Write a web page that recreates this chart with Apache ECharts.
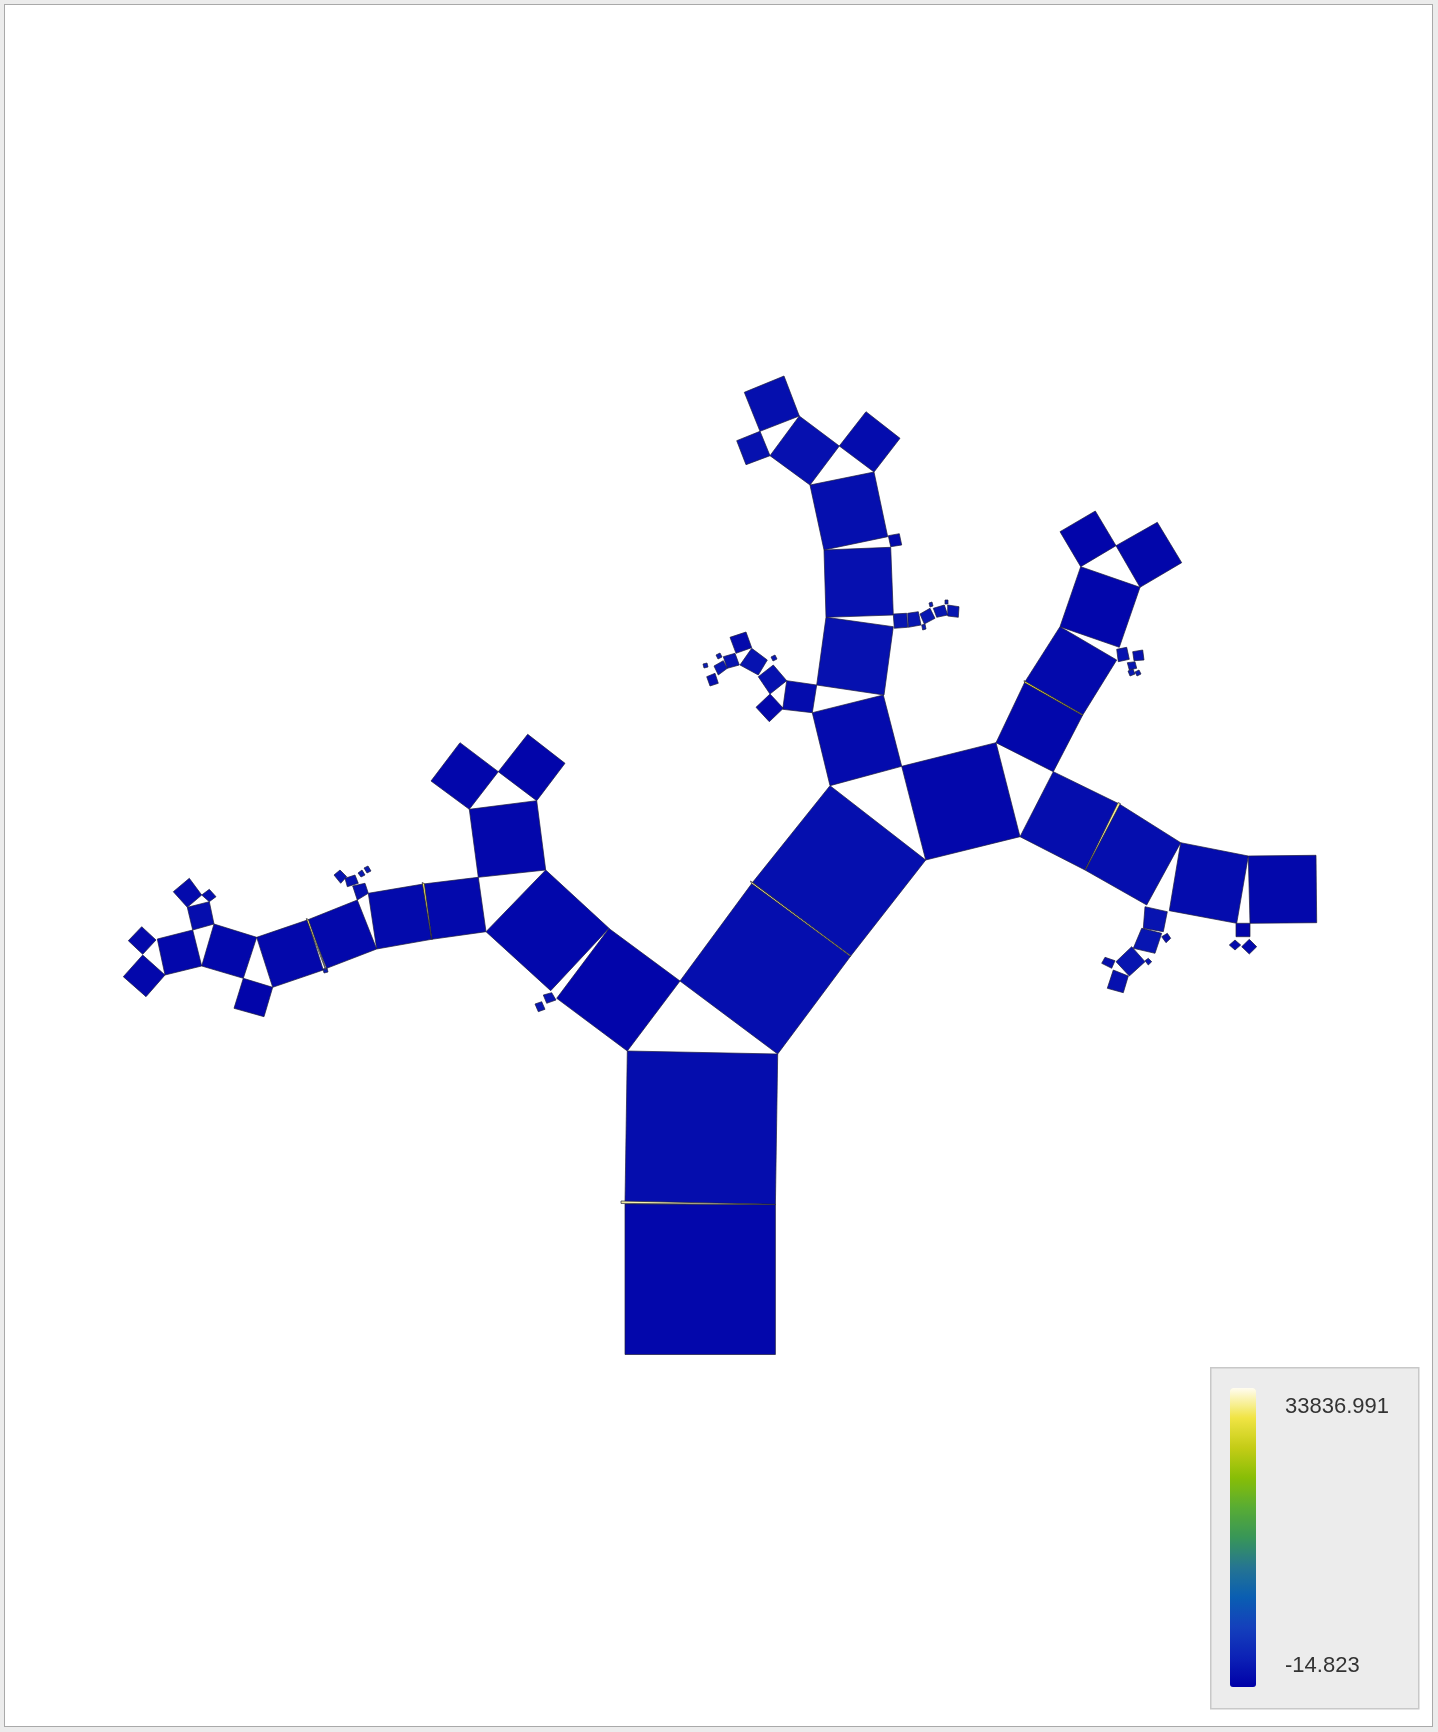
<!DOCTYPE html>
<html>
<head>
<meta charset="utf-8">
<script src="https://cdn.jsdelivr.net/npm/echarts@6/dist/echarts.min.js"></script>
<style>
  html, body { margin: 0; padding: 0; background: #ececec; }
  #main {
    position: absolute; left: 4px; top: 4px;
    width: 1427px; height: 1721px;
    border: 1px solid #a9a9a9; background: #fff;
  }
</style>
</head>
<body>
<div id="main"></div>
<script>
// colour bar range
var valueRange = [-14.823, 33836.991];

// every quad: x1,y1, x2,y2, x3,y3, x4,y4 (plane units)
var trunkQuads = [
  [625, 1204, 775.4, 1204.5, 775.4, 1354.5, 625, 1354.5],
  [627.3, 1051, 777.7, 1054, 775.4, 1204.5, 625, 1202]
];
var trunkValues = [700, 1300];

var leftQuads = [
  [627.3, 1051, 680, 981, 609, 928.5, 556.7, 998.3],
  [486, 931.7, 545.7, 870, 609, 928.3, 550.7, 990.7],
  [543.3, 995, 551.7, 992.7, 556, 1000, 546.7, 1003.3],
  [535, 1004, 541.7, 1001.7, 545, 1009.3, 538.3, 1011.7],
  [478.3, 877.3, 545.7, 870, 536.7, 800.7, 469.3, 809.3],
  [469.3, 809.3, 498.3, 771.7, 460, 742.7, 431, 781],
  [498.3, 771.7, 536.7, 800.7, 565, 763.3, 527.7, 734.3],
  [423.3, 884, 478.3, 877.3, 486, 931.7, 431.7, 939.3],
  [368.3, 893.3, 423.3, 884, 431.7, 939.3, 376.7, 949],
  [352.7, 886, 365, 883.3, 368.3, 893.3, 357.3, 900],
  [345, 878.3, 355, 875, 358.3, 883.3, 347.3, 886.7],
  [334, 875, 340, 870, 346.7, 876.7, 340.7, 883.3],
  [358, 873, 362, 870, 365, 875, 361, 877],
  [364, 868, 368, 866, 371, 871, 367, 873],
  [307.3, 920, 357.3, 900, 376.7, 949, 326.7, 968.3],
  [256.7, 937.3, 307.3, 920, 323.3, 970, 272.7, 987.3],
  [323, 969, 327, 968, 328, 972, 324, 973],
  [243.3, 978.3, 272.7, 987.3, 264, 1016.7, 234, 1008.3],
  [214, 924, 256.7, 937.3, 243.3, 978.3, 201.7, 966],
  [157.3, 939, 192.7, 930, 201.7, 966, 165, 975],
  [187.3, 907.3, 209.3, 901.7, 214, 924, 192.7, 930],
  [173.3, 891.7, 189.3, 878.3, 201.7, 895, 187.3, 907.3],
  [201.7, 895, 209.3, 889.3, 216, 896.7, 209.3, 901.7],
  [128.3, 940.7, 141.7, 926.7, 156, 940, 142.7, 954.3],
  [123.3, 976.7, 142.7, 955, 165, 975, 146, 996.7]
];
var leftValues = [500, 650, 1900, 2200, 700, 600, 500, 900, 950, 1500, 1800, 2000,
  2500, 2600, 750, 800, 2800, 500, 650, 700, 1300, 1000, 1400, 800, 700];

var topQuads = [
  [680, 981, 777.7, 1054, 850.7, 956, 752.7, 882.3],
  [752.7, 882.3, 850.7, 956, 925.7, 860, 830, 785.7],
  [830, 785.7, 901.7, 766.3, 883.3, 695, 812.3, 712.7],
  [786.7, 680.7, 816.7, 685, 812.3, 712.7, 782.7, 709.3],
  [826, 617.3, 893.3, 626.7, 884, 695, 816.7, 685],
  [824, 550, 890.7, 547.3, 893.3, 615, 826, 617.3],
  [810, 485, 874, 472, 887.7, 536.7, 824, 550],
  [770, 455.7, 799.3, 416, 839.3, 446, 810, 485],
  [839.3, 446, 866, 411.7, 900, 438.3, 874, 472],
  [744.3, 392.3, 784, 376, 799.3, 416, 760, 431.3],
  [736.7, 440.7, 760, 431.3, 770, 455.7, 746, 464.7],
  [888.3, 535.7, 899.3, 533.7, 901.7, 545, 890.7, 546.7],
  [893.3, 614, 906.7, 613.3, 907.7, 627.3, 894.3, 628.3],
  [907.7, 613.3, 918.3, 611.7, 921, 625, 908.3, 627.3],
  [920, 614, 930, 608.3, 935, 618.3, 924.3, 624],
  [933.3, 608.3, 944.3, 605, 947.7, 615, 936.7, 617.3],
  [947.7, 605, 959, 606.7, 958.3, 617.3, 947.7, 616],
  [921.7, 625, 925, 624, 926, 629, 922.7, 630],
  [929, 603, 932, 602, 933, 606, 930, 607],
  [945, 600, 948, 600, 948, 604, 945, 604],
  [756, 707.3, 770, 694, 783.3, 708.3, 769.3, 721.7],
  [758.3, 676.7, 773.3, 665, 786.7, 680.7, 770, 694],
  [740, 665, 751.7, 648.3, 767.3, 660, 758.3, 675],
  [730, 637.3, 746, 632, 751.7, 647.7, 736, 653.3],
  [723.3, 656.7, 735, 653.3, 739.3, 665, 727.3, 668.3],
  [714, 666, 723.3, 660.7, 727.3, 668.3, 718.3, 675],
  [706.7, 676.7, 715, 673.3, 718.3, 683.3, 710, 686],
  [771, 657, 775, 655, 777, 659, 773, 661],
  [716, 655, 720, 653, 722, 657, 718, 659],
  [703, 664, 707, 663, 708, 667, 704, 668]
];
var topValues = [1400, 1500, 1100, 1200, 1700, 1600, 1500, 1600, 1200, 1500, 1700, 900,
  2100, 2200, 2400, 2300, 2100, 2900, 2700, 2800, 700, 1700, 1800, 1000, 2000,
  2200, 1400, 2300, 2600, 2800];

var rightQuads = [
  [901.7, 766.3, 925.7, 860, 1020, 836.7, 996, 742.7],
  [996, 742.7, 1053.3, 771.7, 1082.7, 715, 1025, 681.7],
  [1025, 681.7, 1082.7, 715, 1116.7, 660, 1060, 626.7],
  [1060, 626.7, 1119.3, 647.3, 1140, 587.3, 1080.7, 566.7],
  [1060, 531.7, 1095.3, 511, 1116, 545.7, 1080.7, 566.7],
  [1116, 545.7, 1157.3, 522.3, 1181.7, 562.7, 1140, 587.3],
  [1116.7, 649.3, 1126.7, 647.3, 1129.3, 659.3, 1118.3, 661.7],
  [1132.7, 651.7, 1142.7, 650, 1144, 660, 1134, 660.7],
  [1127.3, 662.7, 1135, 661.7, 1136.7, 668.3, 1129.3, 670],
  [1128, 671, 1133, 669, 1135, 674, 1130, 676],
  [1135, 672, 1139, 670, 1141, 674, 1137, 676],
  [1053.3, 771.7, 1119.3, 804, 1085, 870, 1020, 836.7],
  [1119.3, 804, 1180.7, 842.7, 1146.7, 905, 1085, 870],
  [1180.7, 842.7, 1248.3, 856, 1236.7, 923.3, 1169.3, 910.7],
  [1248.3, 856, 1316, 855.3, 1316.7, 922.7, 1250, 923.3],
  [1236, 923.3, 1250, 923.3, 1250, 936.7, 1236, 936.7],
  [1229.3, 945, 1235, 940, 1240.7, 945, 1235, 950],
  [1241.7, 946.7, 1249.3, 939.3, 1256.7, 946.7, 1249.3, 954],
  [1145, 906.7, 1167.3, 911.7, 1163.3, 931.7, 1143.3, 928.3],
  [1141.7, 928.3, 1161.7, 933.3, 1155, 953.3, 1133.3, 948.3],
  [1161.7, 936.7, 1167.3, 933.3, 1170.7, 938.3, 1166, 942.7],
  [1116, 961.7, 1131.7, 946.7, 1145, 961.7, 1129.3, 976],
  [1145, 960.7, 1148.3, 958.3, 1151.7, 961.7, 1148.3, 965],
  [1101.7, 963.3, 1105, 957.3, 1115, 960.7, 1111.7, 968.3],
  [1107.3, 988.3, 1113.3, 970, 1128.3, 976, 1123.3, 992.7]
];
var rightValues = [700, 650, 900, 600, 500, 550, 1900, 1600, 2100, 2600, 2700,
  1300, 1400, 1200, 750, 500, 1000, 900, 1900, 2100, 1300, 2000, 2500, 1400, 1600];

// thin hot slivers between neighbouring squares
var sliverQuads = [
  [621, 1201, 775.4, 1204.3, 775.4, 1204.7, 621, 1203.4],
  [750.5, 881, 850.7, 955.6, 850.5, 956.4, 751.5, 883.6],
  [422.2, 882.5, 431.5, 939, 431.9, 939.5, 424.4, 883.6],
  [306.3, 918.6, 325.6, 969.8, 326.1, 969.6, 308.4, 919.4],
  [1118, 802.6, 1085.3, 869.5, 1085.7, 869.7, 1120.4, 803.6],
  [1024, 680.6, 1082.7, 714.6, 1082.6, 715.4, 1024.6, 682.8]
];
var sliverValues = [32500, 32000, 31000, 31500, 32000, 30500];

var barColors = ['#0000a8', '#0c22b6', '#1440bc', '#0a5eb2', '#257592', '#389658',
  '#58ac34', '#88be06', '#c4cc16', '#f0e444', '#fffcf0'];

function rows(quads, values) {
  return quads.map(function (q, i) { return [values[i]].concat(q); });
}
var cells = [].concat(
  rows(trunkQuads, trunkValues),
  rows(leftQuads, leftValues),
  rows(topQuads, topValues),
  rows(rightQuads, rightValues),
  rows(sliverQuads, sliverValues)
);

var chart = echarts.init(document.getElementById('main'));
chart.setOption({
  animation: false,
  backgroundColor: '#fff',
  grid: { left: 0, top: 0, right: 0, bottom: 0 },
  xAxis: { type: 'value', min: 5, max: 1432, show: false },
  yAxis: { type: 'value', min: 5, max: 1726, inverse: true, show: false },
  visualMap: {
    type: 'continuous',
    min: valueRange[0],
    max: valueRange[1],
    dimension: 0,
    seriesIndex: 0,
    calculable: false,
    left: 1225,
    top: 1383,
    itemWidth: 26,
    itemHeight: 299,
    padding: 0,
    z: 10,
    inRange: { color: barColors }
  },
  graphic: [
    {
      type: 'rect', left: 1205, top: 1362, z: 1,
      shape: { width: 208, height: 341 },
      style: { fill: '#ececec', stroke: '#c8c8c8', lineWidth: 1.5 }
    },
    {
      type: 'text', left: 1280, top: 1391, z: 11,
      style: { text: valueRange[1].toFixed(3), fill: '#333', fontSize: 22, fontFamily: 'Liberation Sans, Arial, sans-serif' }
    },
    {
      type: 'text', left: 1280, top: 1650, z: 11,
      style: { text: valueRange[0].toFixed(3), fill: '#333', fontSize: 22, fontFamily: 'Liberation Sans, Arial, sans-serif' }
    }
  ],
  series: [{
    type: 'custom',
    coordinateSystem: 'cartesian2d',
    dimensions: ['value', 'x1', 'y1', 'x2', 'y2', 'x3', 'y3', 'x4', 'y4'],
    encode: { x: [1, 3, 5, 7], y: [2, 4, 6, 8] },
    data: cells,
    renderItem: function (params, api) {
      var pts = [];
      for (var k = 0; k < 4; k++) {
        pts.push(api.coord([api.value(1 + 2 * k), api.value(2 + 2 * k)]));
      }
      return {
        type: 'polygon',
        shape: { points: pts },
        style: { fill: api.visual('color'), stroke: '#1c1c3c', lineWidth: 0.7 }
      };
    }
  }]
});
</script>
</body>
</html>
